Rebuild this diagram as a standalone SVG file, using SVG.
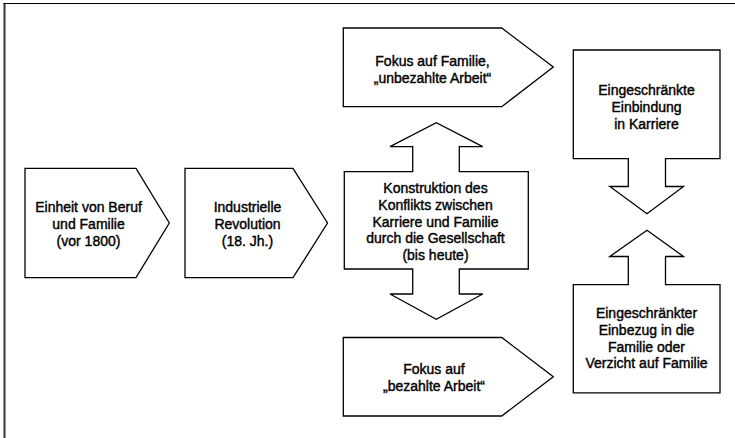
<svg xmlns="http://www.w3.org/2000/svg" width="735" height="438" viewBox="0 0 735 438">
<style>
.shape{fill:#ffffff;stroke:#000000;stroke-width:1.3;stroke-linejoin:miter}
.t{font-family:"Liberation Sans",Arial,sans-serif;font-size:14px;fill:#000000;stroke:#000000;stroke-width:0.4;text-anchor:middle}
</style>
<rect x="0" y="0" width="735" height="438" fill="#ffffff"/>
<g id="frame">
<line x1="4.5" y1="3" x2="4.5" y2="438" stroke="#333333" stroke-width="2"/>
<line x1="3.5" y1="3.5" x2="735" y2="3.5" stroke="#000000" stroke-width="1.2"/>
</g>
<g id="connectors"></g>
<g id="n1">
<path class="shape" d="M25,168.3 H136 L169.3,223 L136,277.7 H25 Z"/>
<text class="t" x="88.5"><tspan x="88.5" y="212">Einheit von Beruf</tspan><tspan x="88.5" y="229">und Familie</tspan><tspan x="88.5" y="245.5">(vor 1800)</tspan></text>
</g>
<g id="n2">
<path class="shape" d="M185,168.3 H293 L327.5,223 L293,277.7 H185 Z"/>
<text class="t"><tspan x="247.5" y="212">Industrielle</tspan><tspan x="247.5" y="229">Revolution</tspan><tspan x="247.5" y="245.5">(18. Jh.)</tspan></text>
</g>
<g id="n3">
<path class="shape" d="M343.3,28 H501.7 L553.3,67 L501.7,106.7 H343.3 Z"/>
<text class="t"><tspan x="432.5" y="65.5">Fokus auf Familie,</tspan><tspan x="432.5" y="83">„unbezahlte Arbeit“</tspan></text>
</g>
<g id="n4">
<path class="shape" d="M344.3,171.7 H412.7 V146.7 H390 L436.3,122.7 L482.7,146.7 H459.3 V171.7 H528.3 V269 H459.3 V294 H482.7 L436.3,319.3 L390,294 H412.7 V269 H344.3 Z"/>
<text class="t"><tspan x="435.5" y="193.3">Konstruktion des</tspan><tspan x="435.5" y="210">Konflikts zwischen</tspan><tspan x="435.5" y="226.5">Karriere und Familie</tspan><tspan x="435.5" y="243.2">durch die Gesellschaft</tspan><tspan x="435.5" y="260">(bis heute)</tspan></text>
</g>
<g id="n5">
<path class="shape" d="M343.3,337.5 H501.7 L553.3,376.7 L501.7,416 H343.3 Z"/>
<text class="t"><tspan x="434" y="374">Fokus auf</tspan><tspan x="434" y="391">„bezahlte Arbeit“</tspan></text>
</g>
<g id="n6">
<path class="shape" d="M573.3,50 H720 V158.7 H665.5 V186.5 H683.5 L647,213.7 L609.8,186.5 H628.3 V158.7 H573.3 Z"/>
<text class="t"><tspan x="646.5" y="95">Eingeschränkte</tspan><tspan x="646.5" y="112">Einbindung</tspan><tspan x="646.5" y="128.5">in Karriere</tspan></text>
</g>
<g id="n7">
<path class="shape" d="M573.3,284.7 H628.3 V256.5 H609.8 L647,230.2 L683.5,256.5 H665.5 V284.7 H720 V392.8 H573.3 Z"/>
<text class="t"><tspan x="646.5" y="318">Eingeschränkter</tspan><tspan x="646.5" y="335">Einbezug in die</tspan><tspan x="646.5" y="351.5">Familie oder</tspan><tspan x="646.5" y="368">Verzicht auf Familie</tspan></text>
</g>
</svg>
